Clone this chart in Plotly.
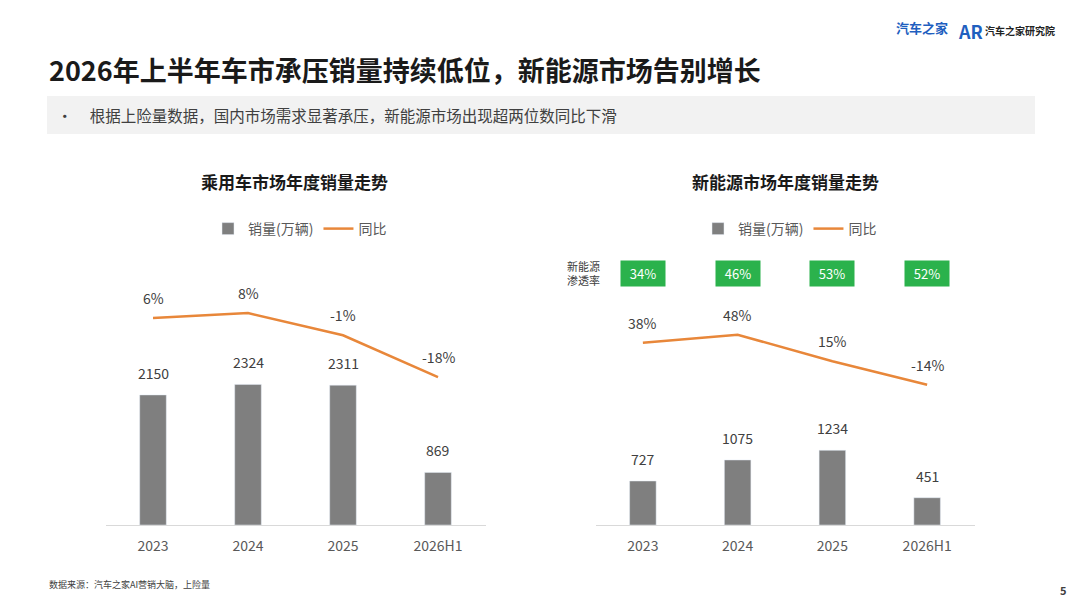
import plotly.graph_objects as go

years = ["2023", "2024", "2025", "2026H1"]
pv_sales = [2150, 2324, 2311, 869]
pv_yoy = [6, 8, -1, -18]
nev_sales = [727, 1075, 1234, 451]
nev_yoy = [38, 48, 15, -14]
nev_share = ["34%", "46%", "53%", "52%"]

# the page body has an 8px margin, so map screen pixels into the figure
OFF = 8
W, H = 1064, 592
def px(x): return (x - OFF) / W
def py(y): return 1 - (y - OFF) / H

bar_c = "#7f7f7f"
line_c = "#e8873a"
txt = "#404040"
FONT = "Noto Sans CJK SC"

fig = go.Figure()

# left chart
fig.add_trace(go.Bar(x=years, y=pv_sales, name="销量(万辆)", marker_color=bar_c, width=0.28,
                     xaxis="x", yaxis="y", legend="legend"))
fig.add_trace(go.Scatter(x=years, y=pv_yoy, name="同比", mode="lines", line=dict(color=line_c, width=2.5),
                         xaxis="x", yaxis="y2", legend="legend"))
# right chart
fig.add_trace(go.Bar(x=years, y=nev_sales, name="销量(万辆)", marker_color=bar_c, width=0.28,
                     xaxis="x3", yaxis="y3", legend="legend2"))
fig.add_trace(go.Scatter(x=years, y=nev_yoy, name="同比", mode="lines", line=dict(color=line_c, width=2.5),
                         xaxis="x3", yaxis="y4", legend="legend2"))

# category axes: annotations use the category index
annotations = []
for xr, yb, yl, sales, yoy in [("x", "y", "y2", pv_sales, pv_yoy), ("x3", "y3", "y4", nev_sales, nev_yoy)]:
    for i, v in enumerate(sales):
        annotations.append(dict(x=i, y=v, xref=xr, yref=yb, text=str(v), yshift=22,
                                font=dict(size=14, color=txt)))
    for i, v in enumerate(yoy):
        annotations.append(dict(x=i, y=v, xref=xr, yref=yl, text=f"{v}%", yshift=20,
                                font=dict(size=14, color=txt)))
for i, s in enumerate(nev_share):
    annotations.append(dict(x=i, y=py(273), xref="x3", yref="paper", text=f"  {s}  ", bgcolor="#2bb24c",
                            borderpad=3, font=dict(size=13, color="white")))

annotations += [
    dict(x=px(47), y=py(70), text="<b>2026年上半年车市承压销量持续低位，新能源市场告别增长</b>",
         xanchor="left", font=dict(size=27, color="#1a1a1a")),
    dict(x=px(55), y=py(115), text="•     根据上险量数据，国内市场需求显著承压，新能源市场出现超两位数同比下滑",
         xanchor="left", font=dict(size=15.5, color=txt)),
    dict(x=px(294), y=py(182), text="<b>乘用车市场年度销量走势</b>", font=dict(size=17, color="#1a1a1a")),
    dict(x=px(785), y=py(182), text="<b>新能源市场年度销量走势</b>", font=dict(size=17, color="#1a1a1a")),
    dict(x=px(583), y=py(273), text="新能源<br>渗透率", font=dict(size=11, color=txt)),
    dict(x=px(47), y=py(584), text="数据来源：汽车之家AI营销大脑，上险量", xanchor="left",
         font=dict(size=9, color=txt)),
    dict(x=px(1063), y=py(590), text="<b>5</b>", font=dict(size=11, color=txt)),
    dict(x=px(922), y=py(28), text="<b>汽车之家</b>", font=dict(size=13, color="#1f5fbf")),
    dict(x=px(1020), y=py(31), text="<b>汽车之家研究院</b>", font=dict(size=10, color="#222")),
    dict(x=px(970), y=py(31), text="<b>AR</b>", font=dict(size=18, color="#1f5fbf")),
]
for a in annotations:
    a.setdefault("xref", "paper")
    a.setdefault("yref", "paper")
    a.setdefault("xanchor", "center")
    a["yanchor"] = "middle"
    a["showarrow"] = False

axis_common = dict(type="category", range=[-0.5, 3.5], showgrid=False, zeroline=False, ticks="",
                   ticklabelstandoff=8, showline=True, linecolor="#d9d9d9",
                   tickfont=dict(size=14, color="#595959"))
fig.update_layout(
    width=W, height=H, margin=dict(l=0, r=0, t=0, b=0),
    paper_bgcolor="white", plot_bgcolor="white",
    font=dict(family=FONT, color=txt),
    xaxis=dict(domain=[px(105.5), px(485.5)], anchor="y", **axis_common),
    yaxis=dict(domain=[py(525), py(250)], range=[0, 4545], visible=False),
    yaxis2=dict(domain=[py(525), py(250)], range=[-78, 33.6], visible=False, overlaying="y", anchor="x"),
    xaxis3=dict(domain=[px(595.5), px(974.5)], anchor="y3", **axis_common),
    yaxis3=dict(domain=[py(525), py(250)], range=[0, 4545], visible=False, anchor="x3"),
    yaxis4=dict(domain=[py(525), py(250)], range=[-188, 153], visible=False, overlaying="y3", anchor="x3"),
    legend=dict(orientation="h", x=px(300), y=py(229), xanchor="center", yanchor="middle",
                font=dict(size=14, color="#595959")),
    legend2=dict(orientation="h", x=px(790), y=py(229), xanchor="center", yanchor="middle",
                 font=dict(size=14, color="#595959")),
    annotations=annotations,
    shapes=[dict(type="rect", xref="paper", yref="paper", x0=px(47), x1=px(1035), y0=py(134), y1=py(96),
                 fillcolor="#f2f2f2", line_width=0, layer="below")],
)

fig.write_html("out.html")
